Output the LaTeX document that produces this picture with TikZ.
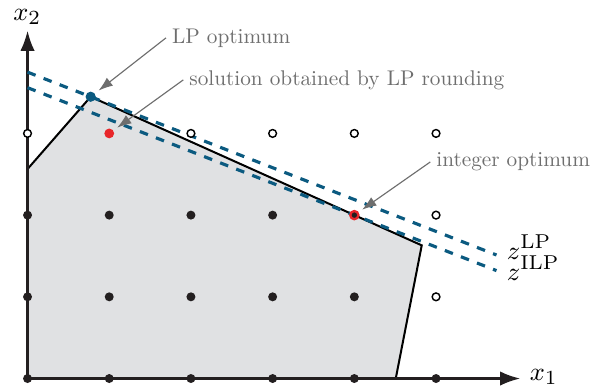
\documentclass[tikz,border=0pt]{standalone}
\usepackage{tikz}
\usetikzlibrary{arrows.meta,positioning,calc}
\usepackage{xcolor}
\definecolor{lpblue}{HTML}{0B5A80}
\definecolor{ptred}{HTML}{E8262A}
\definecolor{regiongray}{HTML}{E0E1E3}
\definecolor{notegray}{HTML}{6E6E6E}
\definecolor{axisblack}{HTML}{231F20}

\begin{document}
\begin{tikzpicture}[>=Latex, x=1cm, y=1cm,
  axis/.style={draw=axisblack,line width=0.75pt,-{Latex[length=7pt,width=5pt]}},
  region/.style={fill=regiongray,draw=black,line width=0.7pt},
  objline/.style={draw=lpblue,line width=1.1pt,dashed},
  feas/.style={circle,fill=axisblack,inner sep=0pt,minimum size=1.1mm},
  infeas/.style={circle,draw=black,fill=white,line width=0.5pt,inner sep=0pt,minimum size=0.95mm},
  lpdot/.style={circle,fill=lpblue,inner sep=0pt,minimum size=1.25mm},
  rounddot/.style={circle,fill=ptred,inner sep=0pt,minimum size=1.2mm},
  optdot/.style={circle,fill=axisblack,draw=ptred,line width=0.8pt,inner sep=0pt,minimum size=1.0mm},
  note/.style={text=notegray,font=\fontsize{10}{12}\selectfont,scale=0.74,transform shape,inner sep=0pt,anchor=base west},
  pointer/.style={draw=notegray,line width=0.4pt,shorten >=1.5pt,-{Latex[length=5pt,width=3.5pt]}},
  mlabel/.style={font=\fontsize{9.5}{11}\selectfont,inner sep=0pt,anchor=base west}]
  \useasboundingbox (-0.337,-0.153) rectangle (6.909,4.633);
  \coordinate (orig) at (0,0);
  \coordinate (x1end) at (6.03,0);
  \coordinate (x2end) at (0,4.257);
  \draw[region] (0,0) -- (0,2.564) -- (0.773,3.449) -- (4.825,1.63) -- (4.507,0) -- cycle;
  \draw[axis] (orig) -- (x1end);
  \draw[axis] (orig) -- (x2end);
  \node[mlabel] (x1lab) at (6.14,-0.02) {$x_1$};
  \node[mlabel] (x2lab) at (-0.18,4.388) {$x_2$};
  \draw[objline] (0,3.750) -- (5.74,1.512);
  \draw[objline] (0,3.560) -- (5.74,1.321);
  \node[mlabel] (zlp) at (5.86,1.46) {$z^{\mathrm{LP}}$};
  \node[mlabel] (zilp) at (5.86,1.20) {$z^{\mathrm{ILP}}$};
  \foreach \x/\y in {0/0,1/0,2/0,3/0,4/0,5/0,0/1,1/1,2/1,3/1,4/1,0/2,1/2,2/2,3/2}
    \node[feas] (p\x\y) at (\x,\y) {};
  \foreach \x/\y in {5/1,5/2,0/3,2/3,3/3,4/3,5/3}
    \node[infeas] (p\x\y) at (\x,\y) {};
  \node[lpdot] (lpopt) at (0.773,3.449) {};
  \node[rounddot] (lpround) at (1,3) {};
  \node[optdot] (intopt) at (4,2) {};
  \node[note] (lpnote) at (1.765,4.106) {LP optimum};
  \node[note] (roundnote) at (1.977,3.592) {solution obtained by LP rounding};
  \node[note] (intnote) at (5.0,2.592) {integer optimum};
  \draw[pointer] ([xshift=-2pt]lpnote.west) -- (lpopt);
  \draw[pointer] ([xshift=-2pt]roundnote.west) -- (lpround);
  \draw[pointer] ([xshift=-2pt]intnote.west) -- (intopt);
\end{tikzpicture}
\end{document}
